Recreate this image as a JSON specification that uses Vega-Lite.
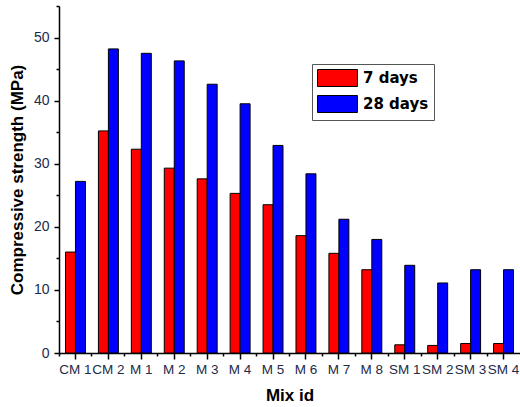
{
  "$schema": "https://vega.github.io/schema/vega-lite/v6.json",
  "width": 461,
  "height": 347,
  "autosize": "none",
  "padding": {"left": 59, "top": 6, "right": 0, "bottom": 54},
  "background": "white",
  "config": {
    "view": {"stroke": null},
    "axis": {"grid": false, "domainColor": "black", "tickColor": "black", "domainWidth": 1.5, "tickWidth": 1.5, "labelFont": "Liberation Sans", "labelColor": "#1c2b4a", "titleFont": "Liberation Sans", "titleFontWeight": "bold", "titleFontSize": 17, "titleColor": "black"}
  },
  "data": {
    "values": [
      {"Mix": "CM 1", "Age": "7 days", "Strength": 16.0},
      {"Mix": "CM 1", "Age": "28 days", "Strength": 27.2},
      {"Mix": "CM 2", "Age": "7 days", "Strength": 35.2},
      {"Mix": "CM 2", "Age": "28 days", "Strength": 48.2},
      {"Mix": "M 1", "Age": "7 days", "Strength": 32.3},
      {"Mix": "M 1", "Age": "28 days", "Strength": 47.5},
      {"Mix": "M 2", "Age": "7 days", "Strength": 29.3},
      {"Mix": "M 2", "Age": "28 days", "Strength": 46.3},
      {"Mix": "M 3", "Age": "7 days", "Strength": 27.6},
      {"Mix": "M 3", "Age": "28 days", "Strength": 42.6},
      {"Mix": "M 4", "Age": "7 days", "Strength": 25.3},
      {"Mix": "M 4", "Age": "28 days", "Strength": 39.5},
      {"Mix": "M 5", "Age": "7 days", "Strength": 23.5},
      {"Mix": "M 5", "Age": "28 days", "Strength": 32.9},
      {"Mix": "M 6", "Age": "7 days", "Strength": 18.6},
      {"Mix": "M 6", "Age": "28 days", "Strength": 28.4},
      {"Mix": "M 7", "Age": "7 days", "Strength": 15.8},
      {"Mix": "M 7", "Age": "28 days", "Strength": 21.2},
      {"Mix": "M 8", "Age": "7 days", "Strength": 13.2},
      {"Mix": "M 8", "Age": "28 days", "Strength": 18.0},
      {"Mix": "SM 1", "Age": "7 days", "Strength": 1.3},
      {"Mix": "SM 1", "Age": "28 days", "Strength": 13.9},
      {"Mix": "SM 2", "Age": "7 days", "Strength": 1.2},
      {"Mix": "SM 2", "Age": "28 days", "Strength": 11.1},
      {"Mix": "SM 3", "Age": "7 days", "Strength": 1.5},
      {"Mix": "SM 3", "Age": "28 days", "Strength": 13.2},
      {"Mix": "SM 4", "Age": "7 days", "Strength": 1.5},
      {"Mix": "SM 4", "Age": "28 days", "Strength": 13.2}
    ]
  },
  "layer": [
    {
      "mark": {"type": "bar", "stroke": "black", "strokeWidth": 1, "opacity": 1},
      "encoding": {
        "x": {"field": "Mix", "type": "nominal", "sort": null,
          "scale": {"paddingInner": 0, "paddingOuter": 0},
          "axis": {"title": "Mix id", "labelAngle": 0, "labelFontSize": 13.5, "labelOverlap": false, "tickSize": 6, "labelPadding": 3, "titlePadding": 12}},
        "xOffset": {"field": "Age", "type": "nominal", "sort": ["7 days", "28 days"],
          "scale": {"domain": ["7 days", "28 days"], "paddingInner": 0, "paddingOuter": 0.65}},
        "y": {"field": "Strength", "type": "quantitative",
          "scale": {"domain": [0, 55], "nice": false, "zero": true},
          "axis": {"title": "Compressive strength (MPa)", "values": [0, 10, 20, 30, 40, 50], "labelFontSize": 14, "tickSize": 5, "labelPadding": 5, "titlePadding": 7}},
        "color": {"field": "Age", "type": "nominal",
          "scale": {"domain": ["7 days", "28 days"], "range": ["#ff0000", "#0000ff"]},
          "legend": {"title": null, "orient": "none", "legendX": 253, "legendY": 58, "direction": "vertical",
            "symbolType": "M-1,-1H3.7V1H-1Z", "symbolSize": 289, "symbolStrokeColor": "black", "symbolStrokeWidth": 1, "symbolOpacity": 1,
            "labelFont": "DejaVu Sans", "labelFontWeight": "bold", "labelFontSize": 15, "labelColor": "black", "labelOffset": 28,
            "strokeColor": "#555555", "padding": 5, "fillColor": "white", "rowPadding": 4}}
      }
    },
    {
      "mark": {"type": "bar", "opacity": 0},
      "encoding": {
        "x": {"field": "Mix", "type": "nominal", "sort": null,
          "axis": {"title": null, "labels": false, "domain": false, "tickSize": 3, "bandPosition": 0, "orient": "bottom"}},
        "y": {"field": "Strength", "type": "quantitative",
          "axis": {"title": null, "labels": false, "domain": false, "tickSize": 3, "values": [5, 15, 25, 35, 45, 55], "orient": "left"}}
      }
    }
  ],
  "resolve": {"axis": {"x": "independent", "y": "independent"}}
}
